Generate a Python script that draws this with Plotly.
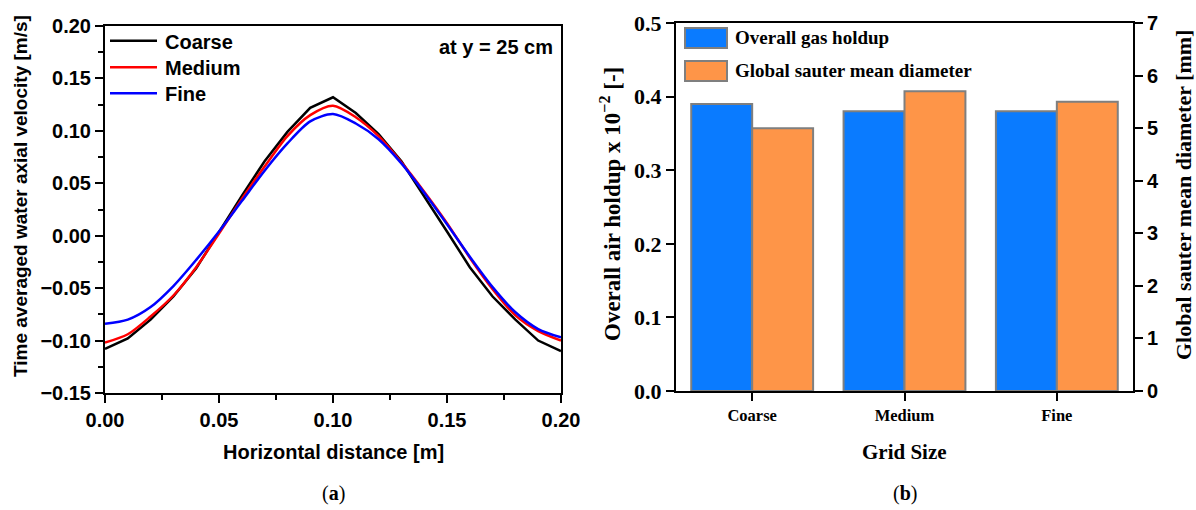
import plotly.graph_objects as go

# ---- (a) time averaged axial water velocity at y = 25 cm ----
distance = [0.00, 0.01, 0.02, 0.03, 0.04, 0.05, 0.06, 0.07, 0.08, 0.09, 0.10,
            0.11, 0.12, 0.13, 0.14, 0.15, 0.16, 0.17, 0.18, 0.19, 0.20]
vel_coarse = [-0.108, -0.098, -0.080, -0.058, -0.031, 0.004, 0.038, 0.071, 0.099, 0.122, 0.132,
              0.117, 0.097, 0.071, 0.038, 0.004, -0.030, -0.058, -0.080, -0.100, -0.110]
vel_medium = [-0.102, -0.094, -0.077, -0.057, -0.030, 0.002, 0.035, 0.066, 0.095, 0.115, 0.124,
              0.113, 0.095, 0.070, 0.042, 0.012, -0.021, -0.051, -0.076, -0.091, -0.100]
vel_fine = [-0.084, -0.080, -0.068, -0.048, -0.023, 0.004, 0.033, 0.062, 0.088, 0.109, 0.116,
            0.107, 0.092, 0.069, 0.041, 0.011, -0.020, -0.049, -0.073, -0.089, -0.097]
line_names = ["Coarse", "Medium", "Fine"]
line_colors = ["#000000", "#ff0000", "#0000ff"]

# ---- (b) overall gas holdup and Sauter mean diameter per grid ----
grids = ["Coarse", "Medium", "Fine"]
gas_holdup = [0.39, 0.38, 0.38]          # x 10^-2 [-]
sauter_diameter = [5.0, 5.7, 5.5]        # [mm]
bar_names = ["Overall gas holdup", "Global sauter mean diameter"]
bar_colors = ["#0a7bff", "#fe9548"]

W, H = 1196, 510
SANS = "Liberation Sans"
SERIF = "Liberation Serif"


def fx(p):
    return p / W


def fy(p):
    return 1 - p / H


fig = go.Figure()

for name, vals, col in zip(line_names, [vel_coarse, vel_medium, vel_fine], line_colors):
    fig.add_trace(go.Scatter(
        x=distance, y=vals, name=name, mode="lines",
        line=dict(color=col, width=2.5, shape="linear" if name == "Coarse" else "spline",
                  smoothing=0.8),
        xaxis="x", yaxis="y", showlegend=False,
    ))

fig.add_trace(go.Bar(
    x=grids, y=gas_holdup, name=bar_names[0], xaxis="x2", yaxis="y2",
    width=0.4, offset=-0.4,
    marker=dict(color=bar_colors[0], line=dict(color="#7f7f7f", width=2)),
    showlegend=False,
))
fig.add_trace(go.Bar(
    x=grids, y=sauter_diameter, name=bar_names[1], xaxis="x2", yaxis="y3",
    width=0.4, offset=0.0,
    marker=dict(color=bar_colors[1], line=dict(color="#7f7f7f", width=2)),
    showlegend=False,
))

sans_bold = dict(family=SANS, size=20, color="black", weight="bold")
serif_bold = dict(family=SERIF, size=22, color="black", weight="bold")

common = dict(showgrid=False, zeroline=False, showline=True, linecolor="black",
              linewidth=2, ticks="outside", ticklen=8, tickwidth=2, tickcolor="black")

fig.update_layout(
    width=W, height=H,
    margin=dict(l=0, r=0, t=0, b=0),
    paper_bgcolor="white", plot_bgcolor="white",
    barmode="overlay",
    showlegend=False,
    xaxis=dict(domain=[fx(105), fx(561)], anchor="y", range=[0, 0.2],
               tickvals=[0, 0.05, 0.10, 0.15, 0.20], tickformat=".2f",
               mirror=True, tickfont=sans_bold, automargin=False,
               minor=dict(ticks="outside", ticklen=5, tickwidth=2, tickcolor="black",
                          dtick=0.025, tick0=0),
               **common),
    yaxis=dict(domain=[fy(393), fy(26)], anchor="x", range=[-0.15, 0.2],
               dtick=0.05, tick0=0, tickformat=".2f",
               mirror=True, tickfont=sans_bold, automargin=False,
               minor=dict(ticks="outside", ticklen=5, tickwidth=2, tickcolor="black",
                          dtick=0.025, tick0=0),
               **common),
    xaxis2=dict(domain=[fx(676), fx(1133)], anchor="y2", range=[-0.5, 2.5],
                type="category", mirror=True, automargin=False,
                tickfont=dict(family=SERIF, size=16.5, color="black", weight="bold"),
                **common),
    yaxis2=dict(domain=[fy(391), fy(23)], anchor="x2", range=[0, 0.5],
                dtick=0.1, tick0=0, tickformat=".1f", automargin=False,
                tickfont=serif_bold, **common),
    yaxis3=dict(domain=[fy(391), fy(23)], anchor="x2", overlaying="y2", side="right",
                range=[0, 7], dtick=1, tick0=0, automargin=False,
                tickfont=sans_bold, **common),
)

ann = []
# axis titles
ann.append(dict(x=fx(21), y=fy(196), text="Time averaged water axial velocity [m/s]",
                textangle=-90, font=dict(family=SANS, size=19, color="black", weight="bold")))
ann.append(dict(x=fx(333), y=fy(452), text="Horizontal distance [m]",
                font=dict(family=SANS, size=20, color="black", weight="bold")))
ann.append(dict(x=fx(610), y=fy(204), text="Overall air holdup x 10<sup>\u22122</sup> [-]",
                textangle=-90, font=dict(family=SERIF, size=23, color="black", weight="bold")))
ann.append(dict(x=fx(1183), y=fy(195), text="Global sauter mean diameter [mm]",
                textangle=-90, font=dict(family=SERIF, size=22, color="black", weight="bold")))
ann.append(dict(x=fx(904.5), y=fy(452), text="Grid Size",
                font=dict(family=SERIF, size=21, color="black", weight="bold")))
# panel captions
ann.append(dict(x=fx(333), y=fy(493), text="(<b>a</b>)",
                font=dict(family=SERIF, size=20, color="black")))
ann.append(dict(x=fx(904.5), y=fy(493), text="(<b>b</b>)",
                font=dict(family=SERIF, size=20, color="black")))
# in-plot note
ann.append(dict(x=fx(555), y=fy(46.7), text="at y = 25 cm", xanchor="right",
                font=dict(family=SANS, size=20, color="black", weight="bold")))

shapes = []
# line legend, panel (a)
for i, (name, col) in enumerate(zip(line_names, line_colors)):
    yc = [40.7, 67.3, 93.3][i]
    shapes.append(dict(type="line", xref="paper", yref="paper",
                       x0=fx(110), x1=fx(157), y0=fy(yc), y1=fy(yc),
                       line=dict(color=col, width=2.5)))
    ann.append(dict(x=fx(163), y=fy(yc + 1), text=name, xanchor="left",
                    font=dict(family=SANS, size=20, color="black", weight="bold")))
# bar legend, panel (b)
for i, (name, col) in enumerate(zip(bar_names, bar_colors)):
    y0, y1 = [(28, 48), (61, 81)][i]
    shapes.append(dict(type="rect", xref="paper", yref="paper",
                       x0=fx(685), x1=fx(727), y0=fy(y1), y1=fy(y0),
                       fillcolor=col, line=dict(color="#7f7f7f", width=2)))
    ann.append(dict(x=fx(733), y=fy((y0 + y1) / 2), text=name, xanchor="left",
                    font=dict(family=SERIF, size=19, color="black", weight="bold")))

for a in ann:
    a.setdefault("xref", "paper")
    a.setdefault("yref", "paper")
    a.setdefault("showarrow", False)
    a.setdefault("xanchor", "center")
    a.setdefault("yanchor", "middle")

fig.update_layout(annotations=ann, shapes=shapes)

fig.write_html("out.html")
